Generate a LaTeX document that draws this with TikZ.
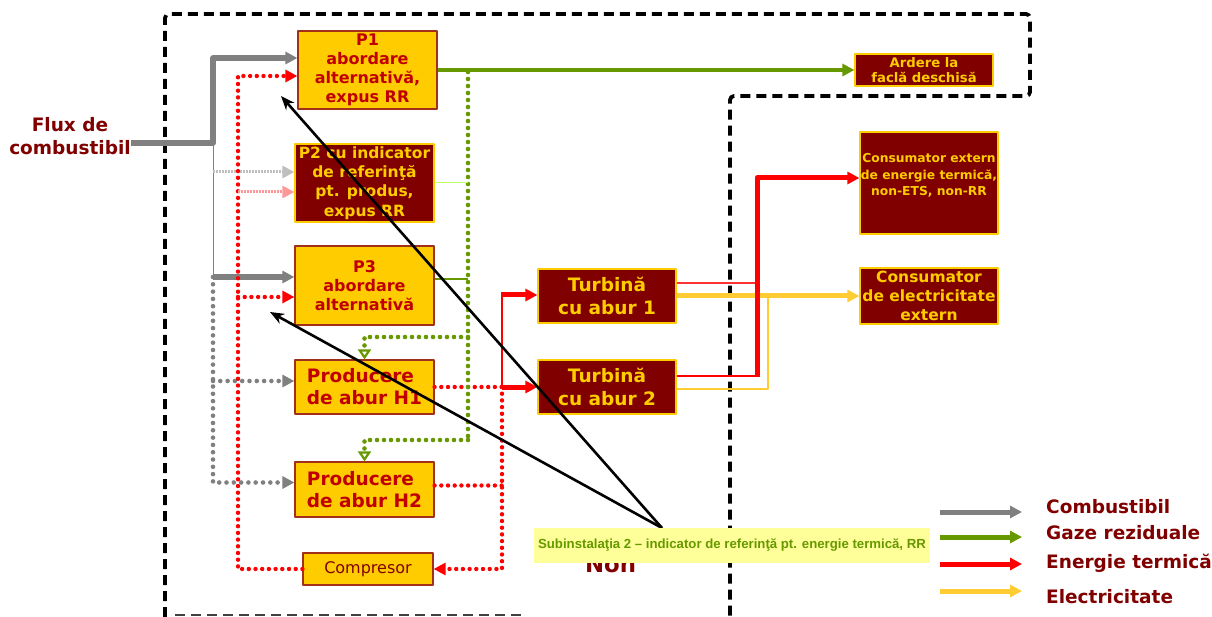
\documentclass[tikz,border=0pt]{standalone}
\usepackage{fontspec}
\setmainfont{DejaVu Sans}
\newfontfamily\calloutfont{Liberation Sans}
\usetikzlibrary{arrows.meta}
\definecolor{boxgold}{HTML}{FFCC00}
\definecolor{boxmaroon}{HTML}{800000}
\definecolor{boxedge}{HTML}{A0301A}
\definecolor{boxtext}{HTML}{C00000}
\definecolor{fuelgray}{HTML}{808080}
\definecolor{wastegreen}{HTML}{669900}
\definecolor{heatred}{HTML}{FF0000}
\definecolor{powerylw}{HTML}{FFCC33}
\definecolor{notebg}{HTML}{FFFF99}
\begin{document}
\begin{tikzpicture}[x=1pt,y=-1pt,line join=round]
  % Styles
  \tikzstyle{gold box}=[draw=boxedge,line width=1.2pt,fill=boxgold,text=boxtext,align=center,inner sep=0pt]
  \tikzstyle{maroon box}=[draw=boxgold,line width=1.2pt,fill=boxmaroon,text=boxgold,align=center,inner sep=0pt]
  \tikzstyle{boundary}=[line width=3.8pt,dash pattern=on 10pt off 6pt,rounded corners=4pt]
  \tikzstyle{tip}=[-{Triangle[length=12pt,width=12pt]}]
  \tikzstyle{fuel thick}=[fuelgray,line width=5.5pt,tip]
  \tikzstyle{fuel dots}=[fuelgray,line width=4.6pt,line cap=round,dash pattern=on 0pt off 7.3pt,tip]
  \tikzstyle{fuel pale}=[black!25,line width=3pt,dash pattern=on 1.5pt off 1.5pt,tip]
  \tikzstyle{heat dots}=[heatred,line width=4.4pt,line cap=round,dash pattern=on 0pt off 6.7pt,tip]
  \tikzstyle{heat pale}=[heatred!40,line width=3pt,dash pattern=on 1.5pt off 1.5pt,tip]
  \tikzstyle{heat thick}=[heatred,line width=5pt,tip]
  \tikzstyle{waste thick}=[wastegreen,line width=4.5pt,tip]
  \tikzstyle{waste dots}=[wastegreen,line width=4.6pt,line cap=round,dash pattern=on 0pt off 7pt]
  \tikzstyle{waste drop}=[waste dots,-{Triangle[open,length=10pt,width=13pt,line width=2.2pt]}]
  \tikzstyle{power thick}=[powerylw,line width=5pt,tip]
  \tikzstyle{pointer}=[black,line width=2.6pt,-{Stealth[length=14pt,width=11pt]}]
  \tikzstyle{dark text}=[text=boxmaroon,font=\fontsize{18.5}{23}\selectfont\bfseries,inner sep=0pt]
  \useasboundingbox (0,0) rectangle (1212,617);
  %boundaries
  \draw[boundary] (165,617) -- (165,14) -- (1030,14) -- (1030,96) -- (730,96) -- (730,617);
  \draw[boundary,black!75,line width=2.5pt,rounded corners=0pt] (175,615) -- (525,615);
  %units
  \node[gold box,minimum width=139pt,minimum height=78pt,font=\fontsize{16}{19}\selectfont\bfseries] (P1) at (367.5,70) {P1\\abordare\\alternativă,\\expus RR};
  \node[maroon box,minimum width=139pt,minimum height=78pt,font=\fontsize{15.5}{19.3}\selectfont\bfseries] (P2) at (364.5,183) {P2 cu indicator\\de referinţă\\pt. produs,\\expus RR};
  \node[gold box,minimum width=139pt,minimum height=79pt,font=\fontsize{16}{19}\selectfont\bfseries] (P3) at (364.5,285.5) {P3\\abordare\\alternativă};
  \node[gold box,align=left,minimum width=139pt,minimum height=54pt,font=\fontsize{18.5}{22}\selectfont\bfseries] (H1) at (364.5,387) {Producere\\de abur H1};
  \node[gold box,align=left,minimum width=139pt,minimum height=55pt,font=\fontsize{18.5}{22}\selectfont\bfseries] (H2) at (364.5,489.5) {Producere\\de abur H2};
  \node[gold box,text=boxmaroon,minimum width=130pt,minimum height=32pt,font=\fontsize{16}{18}\selectfont] (Comp) at (368,569) {Compresor};
  \node[maroon box,minimum width=138pt,minimum height=54pt,font=\fontsize{18.5}{23}\selectfont\bfseries] (T1) at (607,296) {Turbină\\cu abur 1};
  \node[maroon box,minimum width=138pt,minimum height=54pt,font=\fontsize{18.5}{23}\selectfont\bfseries] (T2) at (607,387) {Turbină\\cu abur 2};
  \node[maroon box,minimum width=138pt,minimum height=32pt,font=\fontsize{13.2}{15}\selectfont\bfseries] (Ardere) at (924,70) {Ardere la\\faclă deschisă};
  \node[maroon box,minimum width=138pt,minimum height=102pt,font=\fontsize{12.3}{16.7}\selectfont\bfseries] (ConsT) at (929,183) {Consumator extern\\de energie termică,\\non-ETS, non-RR\\ };
  \node[maroon box,minimum width=138pt,minimum height=56pt,font=\fontsize{15.5}{19}\selectfont\bfseries] (ConsE) at (929,296) {Consumator\\de electricitate\\extern};
  \node[dark text,align=center] (flux) at (70,136) {Flux de\\combustibil};
  %fuel
  \coordinate (fuelbus) at (213,143);
  \coordinate (fuelP2) at (213,172);
  \coordinate (fuelP3) at (213,277);
  \coordinate (fuelH1) at (213,381);
  \draw[fuel thick] (flux.east |- fuelbus) -- (fuelbus) |- ([yshift=12pt]P1.west);
  \draw[fuelgray,line width=1pt] (fuelbus) -- (fuelP3);
  \draw[fuel pale] (fuelP2) -- (P2.west |- fuelP2);
  \draw[fuel thick] (fuelP3) -- (P3.west |- fuelP3);
  \draw[fuel dots] (fuelP3) |- ([yshift=7pt]H2.west);
  \draw[fuel dots] (fuelH1) -- ([yshift=6pt]H1.west);
  %heat loop
  \coordinate (heatbus) at (238,76);
  \coordinate (heatP2) at (238,192);
  \coordinate (heatP3) at (238,297);
  \coordinate (steamjoin) at (502,387);
  \draw[heat dots] (Comp.west) -| (heatbus) -- ([yshift=-6pt]P1.west);
  \draw[heat pale] (heatP2) -- (P2.west |- heatP2);
  \draw[heat dots] (heatP3) -- (P3.west |- heatP3);
  \path ([yshift=4pt]H2.east) coordinate (h2out);
  \draw[heat dots,-] (H1.east) -- (steamjoin);
  \draw[heat dots,-] (h2out) -- (h2out -| steamjoin);
  \draw[heat dots] (steamjoin) |- (Comp.east);
  \draw[heat thick] (steamjoin) -- (T2.west);
  \path ([yshift=1pt]T1.west) coordinate (t1in);
  \draw[heatred,line width=1.2pt] (steamjoin) |- ([xshift=-36pt]t1in);
  \draw[heat thick] ([xshift=-36pt]t1in) -- (t1in);
  %waste gas
  \coordinate (wastebus) at (468,72);
  \coordinate (wasteH1) at (468,337);
  \coordinate (wasteH2) at (468,440);
  \draw[waste thick] (P1.east) -- (Ardere.west);
  \draw[waste dots] (wastebus) -- (wasteH2);
  \draw[waste drop] (wasteH1) -| (H1.north);
  \draw[waste drop] (wasteH2) -| (H2.north);
  \draw[green!25!lime!60,line width=1pt] (P2.east) -- (P2.east -| wastebus);
  \path ([yshift=6.5pt]P3.east) coordinate (p3out);
  \draw[wastegreen,line width=1.2pt] (p3out) -- (p3out -| wastebus);
  %turbine outputs
  \coordinate (heatriser) at (757,377);
  \coordinate (powerriser) at (768,296);
  \path ([yshift=13pt]T1.east) coordinate (t1heat);
  \path ([yshift=11pt]T2.east) coordinate (t2heat);
  \path ([yshift=-2pt]T2.east) coordinate (t2power);
  \draw[heatred!80,line width=1.2pt] (t1heat) -- (t1heat -| heatriser);
  \draw[heatred,line width=1.2pt] (t2heat) -- (t2heat -| heatriser);
  \draw[power thick] (T1.east) -- (ConsE.west);
  \draw[powerylw,line width=1.5pt] (t2power) -| (powerriser);
  \draw[heat thick] (heatriser) |- ([yshift=5pt]ConsT.west);
  %pointers
  \coordinate (notetip) at (662,528);
  \coordinate (p1mark) at (281,96);
  \coordinate (p3mark) at (270,312);
  \draw[pointer] (notetip) -- (p1mark);
  \draw[pointer] (notetip) -- (p3mark);
  \node[text=boxmaroon,font=\fontsize{22.8}{24}\selectfont\bfseries,anchor=base,inner sep=0pt] (hidden) at (610.5,572) {Non};
  \node[fill=notebg,minimum width=396pt,minimum height=35pt,inner sep=0pt,text=wastegreen,font=\calloutfont\fontsize{13.2}{15}\selectfont\bfseries] (note) at (732,545.5) {Subinstalaţia 2 – indicator de referinţă pt. energie termică, RR};
  %legend
  \foreach \name/\col/\ay/\ty/\txt in {fuel/fuelgray/512/507/Combustibil, waste/wastegreen/537/533/Gaze reziduale, heat/heatred/564/563/Energie termică, power/powerylw/591/597/Electricitate}{
    \coordinate (\name from) at (940,\ay);
    \coordinate (\name to) at (1022,\ay);
    \draw[\col,line width=5pt,tip] (\name from) -- (\name to);
    \node[dark text,anchor=west] (\name key) at (1046,\ty) {\txt};
  }
\end{tikzpicture}
\end{document}
